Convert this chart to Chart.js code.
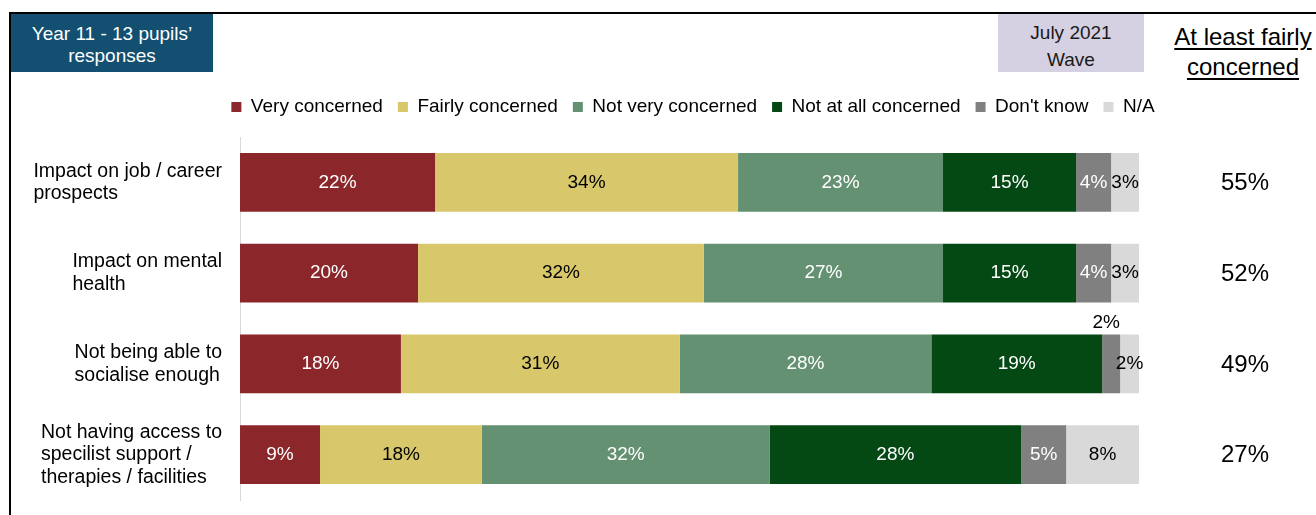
<!DOCTYPE html>
<html>
<head>
<meta charset="utf-8">
<script src="https://cdn.jsdelivr.net/npm/chart.js@4.4.1/dist/chart.umd.min.js"></script>
<style>
    html, body { margin: 0; padding: 0; background: #fff; }
    body { width: 1316px; height: 515px; position: relative; overflow: hidden; font-family: 'Liberation Sans', Arial, sans-serif; }
    #chartWrap { position: absolute; left: 0; top: 0; width: 1316px; height: 515px; }
    .frame { position: absolute; left: 9px; top: 12px; right: 0; bottom: -5px; border-top: 2px solid #000; border-left: 2px solid #000; }
    .badge { position: absolute; text-align: center; font-size: 19px; }
    .group { left: 11px; top: 14px; width: 202px; height: 58px; background: #134f70; color: #fff; line-height: 22px; padding-top: 9px; box-sizing: border-box; }
    .wave { left: 998px; top: 14px; width: 146px; height: 58px; background: #d5d0e2; color: #1a1a1a; line-height: 27px; padding-top: 5px; box-sizing: border-box; }
    .summaryHead { position: absolute; left: 1143px; top: 22px; width: 200px; text-align: center; font-size: 24px; line-height: 30px; color: #000; text-decoration: underline; text-underline-offset: 3px; }
</style>
</head>
<body>
<div class="frame"></div>
<div class="badge group">Year 11 - 13 pupils’<br>responses</div>
<div class="badge wave">July 2021<br>Wave</div>
<div class="summaryHead">At least fairly<br>concerned</div>
<div id="chartWrap"><canvas id="concernChart" width="1316" height="515"></canvas></div>

<script>
// Statements, one entry per row (lines as shown)
const statements = [
    ['Impact on job / career', 'prospects'],
    ['Impact on mental', 'health'],
    ['Not being able to', 'socialise enough'],
    ['Not having access to', 'specilist support /', 'therapies / facilities']
];

const seriesNames = ['Very concerned', 'Fairly concerned', 'Not very concerned', 'Not at all concerned', "Don't know", 'N/A'];

// Share of pupils (%) per answer, same order as statements
const veryConcerned = [21.7, 19.8, 17.9, 8.9];
const fairlyConcerned = [33.7, 31.8, 31.0, 18.0];
const notVeryConcerned = [22.8, 26.6, 28.0, 32.0];
const notAtAllConcerned = [14.8, 14.8, 19.0, 28.0];
const dontKnow = [3.9, 3.9, 2.0, 5.0];
const notApplicable = [3.1, 3.1, 2.1, 8.1];

const seriesColors = ['#8b262b', '#d9c76b', '#649171', '#044814', '#808080', '#d9d9d9'];
const labelColors = ['#fff', '#000', '#fff', '#fff', '#fff', '#000'];

const FONT = "'Liberation Sans', Arial, sans-serif";

const allSeries = [veryConcerned, fairlyConcerned, notVeryConcerned, notAtAllConcerned, dontKnow, notApplicable];

// "At least fairly concerned" = very + fairly
const atLeastFairly = veryConcerned.map((v, i) => Math.round(v + fairlyConcerned[i]));

// statement text on the left: lines left-aligned, block right-aligned
const statementLabels = {
    id: 'statementLabels',
    afterDraw(chart) {
        const ctx = chart.ctx;
        const y = chart.scales.y;
        const right = 222;
        const lh = 22.5;
        ctx.save();
        ctx.font = '19.5px ' + FONT;
        ctx.fillStyle = '#000';
        ctx.textAlign = 'left';
        ctx.textBaseline = 'middle';
        statements.forEach((lines, i) => {
            const cy = y.getPixelForValue(i);
            const w = Math.max(...lines.map(l => ctx.measureText(l).width));
            const top = cy - (lines.length - 1) * lh / 2;
            lines.forEach((l, k) => ctx.fillText(l, right - w, top + k * lh));
        });
        ctx.restore();
    }
};

// percentage labels on each segment, plus the summary column
const valueLabels = {
    id: 'valueLabels',
    afterDatasetsDraw(chart) {
        const ctx = chart.ctx;
        ctx.save();
        ctx.font = '19px ' + FONT;
        ctx.textAlign = 'center';
        ctx.textBaseline = 'middle';
        chart.data.datasets.forEach((ds, di) => {
            const meta = chart.getDatasetMeta(di);
            meta.data.forEach((bar, j) => {
                const txt = Math.round(ds.data[j]) + '%';
                const w = Math.abs(bar.x - bar.base);
                let cx = (bar.x + bar.base) / 2;
                let cy = bar.y;
                ctx.fillStyle = labelColors[di];
                if (w < 25 && di < chart.data.datasets.length - 1) {
                    // too narrow: put it above the bar
                    cx -= 5;
                    cy = bar.y - bar.height / 2 - 12;
                    ctx.fillStyle = '#000';
                }
                ctx.fillText(txt, cx, cy);
            });
        });

        const y = chart.scales.y;
        ctx.font = '24px ' + FONT;
        ctx.fillStyle = '#000';
        atLeastFairly.forEach((v, i) => {
            ctx.fillText(v + '%', chart.chartArea.right + 106, y.getPixelForValue(i) + 1);
        });
        ctx.restore();
    }
};

const ctx = document.getElementById('concernChart').getContext('2d');
const concernChart = new Chart(ctx, {
    type: 'bar',
    data: {
        labels: statements.map(s => s.join(' ')),
        datasets: allSeries.map((data, i) => ({
            label: seriesNames[i],
            data: data,
            backgroundColor: seriesColors[i],
            borderWidth: 0,
            barPercentage: 0.65,
            categoryPercentage: 1
        }))
    },
    options: {
        indexAxis: 'y',
        responsive: false,
        animation: false,
        layout: {
            padding: { left: 180, right: 110, top: 82.5, bottom: 15 }
        },
        plugins: {
            legend: {
                position: 'top',
                labels: {
                    boxWidth: 10,
                    boxHeight: 10,
                    padding: 15,
                    color: '#000',
                    font: { family: FONT, size: 19 }
                }
            },
            tooltip: { enabled: false }
        },
        scales: {
            x: {
                position: 'top',
                stacked: true,
                min: 0,
                max: 100,
                grid: { display: false },
                border: { display: false },
                ticks: { display: false },
                afterFit(scale) { scale.height = 10.5; }
            },
            y: {
                stacked: true,
                offset: true,
                grid: { display: false },
                border: { display: true, color: '#d9d9d9', width: 1 },
                ticks: { display: false },
                afterFit(scale) { scale.width = 60; }
            },
            y2: {
                type: 'category',
                position: 'right',
                offset: true,
                grid: { display: false },
                border: { display: false },
                ticks: { display: false },
                afterFit(scale) { scale.width = 67; }
            }
        }
    },
    plugins: [statementLabels, valueLabels]
});
</script>
</body>
</html>
